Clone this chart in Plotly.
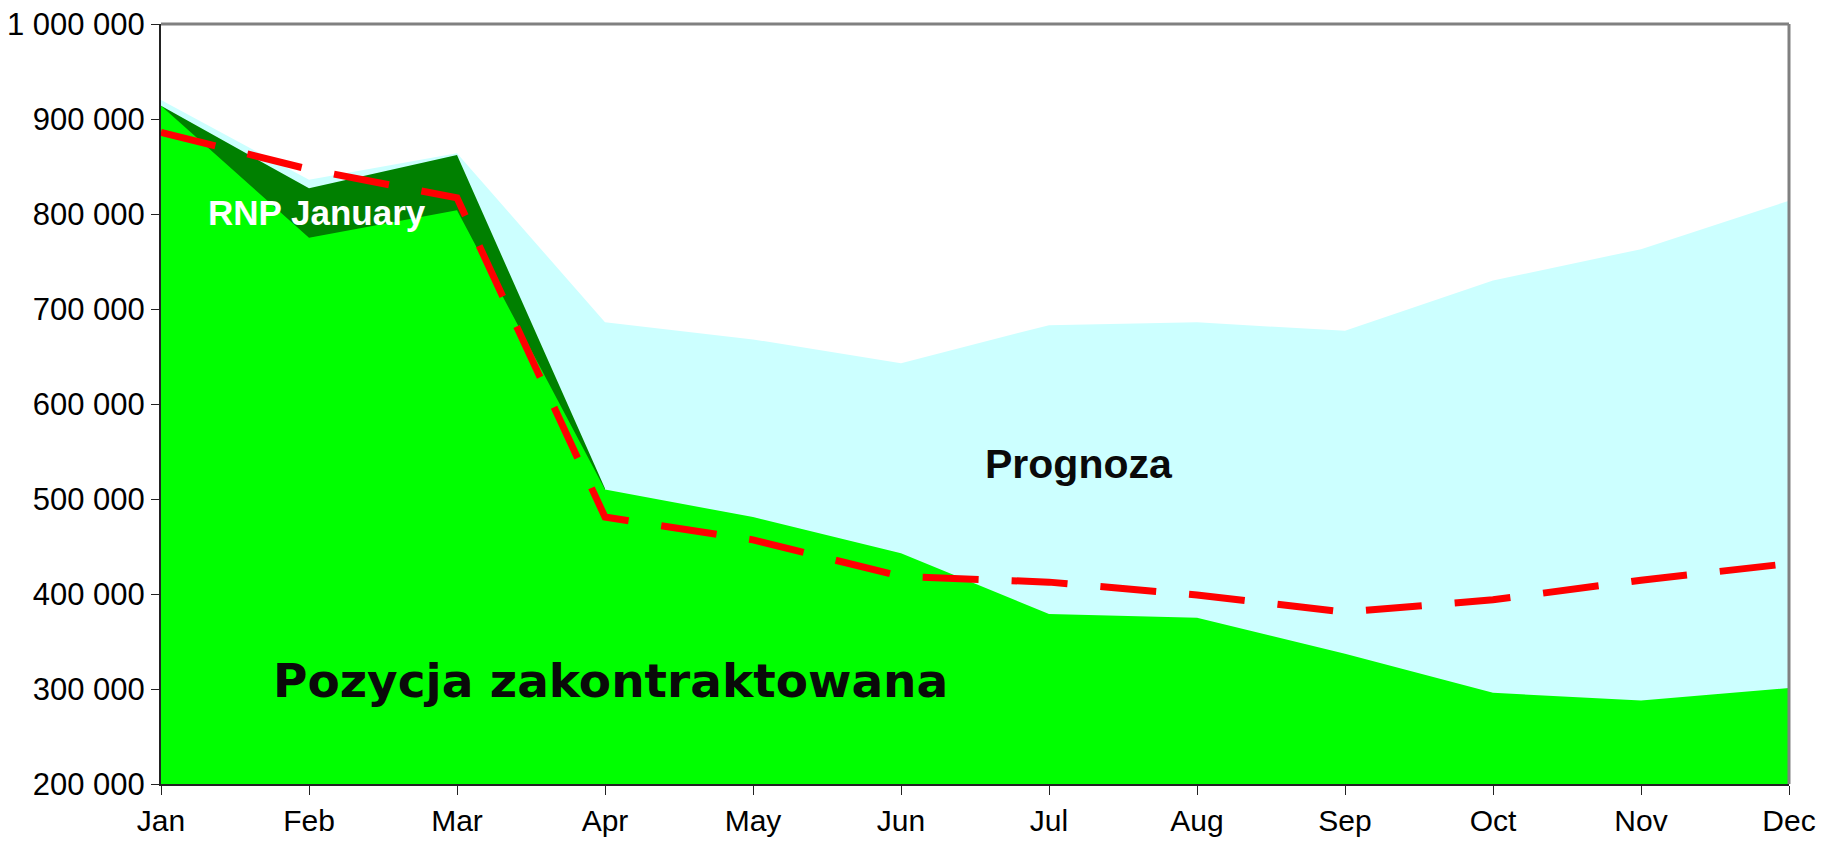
import plotly.graph_objects as go

months = ["Jan", "Feb", "Mar", "Apr", "May", "Jun", "Jul", "Aug", "Sep", "Oct", "Nov", "Dec"]

# Prognoza (total forecast) - light blue area
prognoza = [920000, 836000, 864000, 686000, 668000, 643000, 683000, 686000, 677000, 730000, 763000, 814000]
# RNP January - dark green area (Jan-Apr)
rnp_months = ["Jan", "Feb", "Mar", "Apr"]
rnp_january = [914000, 827000, 862000, 511000]
# Pozycja zakontraktowana - light green area
pozycja = [914000, 775000, 804000, 510000, 481000, 443000, 379000, 375000, 337000, 296000, 288000, 301000]
# red dashed line
red_line = [886000, 847000, 817000, 481000, 457000, 418500, 412500, 399000, 381000, 394000, 414500, 432000]

ytick_vals = [200000, 300000, 400000, 500000, 600000, 700000, 800000, 900000, 1000000]
ytick_text = ["200 000", "300 000", "400 000", "500 000", "600 000", "700 000", "800 000", "900 000", "1 000 000"]

fig = go.Figure()
fig.add_trace(go.Scatter(x=months, y=prognoza, mode="lines", fill="tozeroy",
                         line=dict(width=0, color="#CCFFFF"), fillcolor="#CCFFFF", hoverinfo="skip"))
fig.add_trace(go.Scatter(x=rnp_months, y=rnp_january, mode="lines", fill="tozeroy",
                         line=dict(width=0, color="#008000"), fillcolor="#008000", hoverinfo="skip"))
fig.add_trace(go.Scatter(x=months, y=pozycja, mode="lines", fill="tozeroy",
                         line=dict(width=0, color="#00FF00"), fillcolor="#00FF00", hoverinfo="skip"))
fig.add_trace(go.Scatter(x=months, y=red_line, mode="lines",
                         line=dict(width=7, color="#FF0000", dash="56px,33px"), hoverinfo="skip"))

fig.add_annotation(x=1.054, y=802000, text="<b>RNP January</b>", showarrow=False,
                   font=dict(family="Liberation Sans, Arial", size=35, color="white"))
fig.add_annotation(x=6.206, y=537000, text="<b>Prognoza</b>", showarrow=False,
                   font=dict(family="Liberation Sans, Arial", size=41, color="#0a0a0a"))
fig.add_annotation(x=3.04, y=308500, text="<b>Pozycja zakontraktowana</b>", showarrow=False,
                   font=dict(family="DejaVu Sans", size=47, color="#0a0a0a"))

# frame: top and right in gray
fig.add_shape(type="line", xref="paper", yref="paper", x0=0, x1=1, y0=1, y1=1,
              line=dict(color="#808080", width=3))
fig.add_shape(type="line", xref="paper", yref="paper", x0=1, x1=1, y0=0, y1=1,
              line=dict(color="#808080", width=3))

fig.update_layout(
    width=1833, height=843,
    margin=dict(l=153, r=52, t=16, b=67, autoexpand=False),
    paper_bgcolor="white", plot_bgcolor="white",
    showlegend=False,
    font=dict(family="Liberation Sans, Arial", size=31, color="black"),
)
fig.update_xaxes(type="category", range=[0, 11], showgrid=False, zeroline=False, automargin=False,
                 showline=True, linecolor="#222222", linewidth=2,
                 ticks="outside", ticklen=9, tickcolor="#222222", tickwidth=1,
                 ticklabeloverflow="allow",
                 tickfont=dict(size=30, family="Liberation Sans, Arial", color="black"))
fig.update_yaxes(range=[200000, 1000000], tickvals=ytick_vals, ticktext=ytick_text, automargin=False,
                 showgrid=False, zeroline=False, showline=True, linecolor="#222222", linewidth=2,
                 ticks="outside", ticklen=8, tickcolor="#222222", tickwidth=1,
                 ticklabeloverflow="allow",
                 tickfont=dict(size=31, family="Liberation Sans, Arial", color="black"))

fig.write_html("out.html")
